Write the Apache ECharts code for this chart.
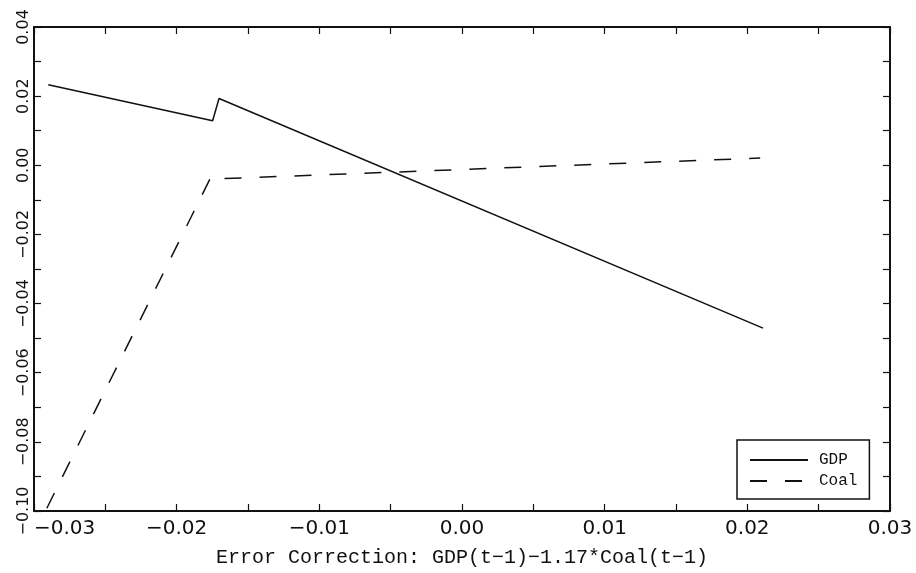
<!DOCTYPE html>
<html>
<head>
<meta charset="utf-8">
<script src="https://cdn.jsdelivr.net/npm/echarts@6/dist/echarts.min.js"></script>
<style>
  html, body { margin: 0; padding: 0; background: #fff; }
  #chart { width: 916px; height: 573px; }
</style>
</head>
<body>
<div id="chart"></div>
<script>
// values
const gdpX = [-0.0290, -0.01748, -0.01703, 0.0211]
const gdpY = [0.0233, 0.0129, 0.0193, -0.0471]
const coalX = [-0.0291, -0.01754, -0.01696, 0.0209]
const coalY = [-0.0992, -0.0029, -0.0039, 0.0021]

const xTicks = { min: -0.03, max: 0.03, step: 0.01 }
const yTicks = { min: -0.10, max: 0.04, step: 0.02 }

const zip = (xs, ys) => xs.map((x, i) => [x, ys[i]])

// axis labels use a real minus sign
const fmt = v => {
  if (Math.abs(v) < 1e-9) v = 0
  return v.toFixed(2).replace('-', '\u2212')
}

const ink = '#111'

const frameAxis = (extra) => ({
  type: 'value',
  axisLine: { show: true, onZero: false, lineStyle: { color: ink, width: 2 } },
  axisTick: { show: true, inside: true, length: 7, lineStyle: { color: ink, width: 1.2 } },
  minorTick: { show: true, splitNumber: 2, length: 7, lineStyle: { color: ink, width: 1.2 } },
  splitLine: { show: false },
  minorSplitLine: { show: false },
  ...extra
})

const chart = echarts.init(document.getElementById('chart'))

chart.setOption({
  backgroundColor: '#fff',
  animation: false,
  grid: { left: 34, right: 26, top: 27, bottom: 60, containLabel: false },
  legend: {
    orient: 'vertical',
    left: 737,
    top: 440,
    padding: [12, 12, 10, 12],
    itemWidth: 58,
    itemHeight: 14,
    itemGap: 5,
    backgroundColor: '#fff',
    borderColor: ink,
    borderWidth: 1.5,
    borderRadius: 0,
    itemStyle: { opacity: 0 },
    textStyle: { fontFamily: 'Liberation Mono', fontSize: 16, color: ink, padding: [0, 0, 0, 6] },
    data: ['GDP', 'Coal']
  },
  xAxis: [
    frameAxis({
      min: xTicks.min, max: xTicks.max, interval: xTicks.step,
      name: 'Error Correction: GDP(t\u22121)\u22121.17*Coal(t\u22121)',
      nameLocation: 'middle',
      nameGap: 37,
      nameTextStyle: { fontFamily: 'Liberation Mono', fontSize: 20, color: ink },
      axisLabel: {
        formatter: fmt, margin: 8, color: ink,
        fontFamily: 'DejaVu Sans', fontSize: 20,
        alignMinLabel: 'left'
      }
    }),
    frameAxis({
      position: 'top',
      min: xTicks.min, max: xTicks.max, interval: xTicks.step,
      axisLabel: { show: false }
    })
  ],
  yAxis: [
    frameAxis({
      min: yTicks.min, max: yTicks.max, interval: yTicks.step,
      axisLabel: {
        formatter: fmt, rotate: 90, margin: 2, color: ink,
        fontFamily: 'DejaVu Sans', fontSize: 16
      }
    }),
    frameAxis({
      position: 'right',
      min: yTicks.min, max: yTicks.max, interval: yTicks.step,
      axisLabel: { show: false }
    })
  ],
  series: [
    {
      name: 'GDP',
      type: 'line',
      data: zip(gdpX, gdpY),
      symbol: 'none',
      color: ink,
      lineStyle: { color: ink, width: 1.5 }
    },
    {
      name: 'Coal',
      type: 'line',
      data: zip(coalX, coalY),
      symbol: 'none',
      color: ink,
      lineStyle: { color: ink, width: 1.5, type: [17, 18] }
    }
  ]
})
</script>
</body>
</html>
